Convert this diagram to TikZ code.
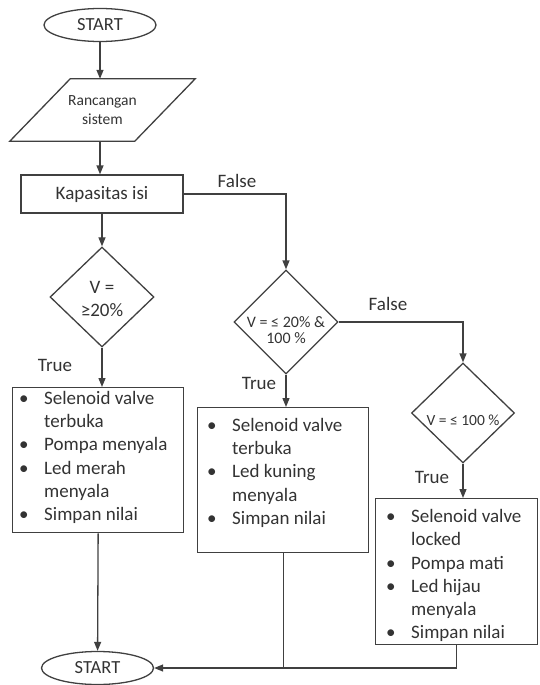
\documentclass[tikz,border=0pt]{standalone}
\usepackage{fontspec}
\setmainfont{Carlito}
\usetikzlibrary{shapes.geometric,arrows.meta,calc}
\definecolor{lncol}{HTML}{404040}
\definecolor{txcol}{HTML}{333333}
\newcommand{\bl}{\makebox[25pt][l]{\textbullet}}
\newcommand{\ind}{\hspace*{25pt}}
\begin{document}
\begin{tikzpicture}[x=1pt,y=-1pt,
  every node/.style={text=txcol, inner sep=0pt},
  lnst/.style={draw=lncol, line width=1.3pt},
  arr/.style={lnst, -{Triangle[length=9pt,width=7pt]}},
  term/.style={lnst, ellipse, minimum width=112pt, minimum height=33pt, font=\fontsize{18.5}{22}\selectfont},
  proc/.style={lnst, rectangle, minimum width=162pt, minimum height=38pt, font=\fontsize{19}{23}\selectfont},
  dec/.style={lnst, diamond},
  lbl/.style={font=\fontsize{19}{23}\selectfont},
  lst/.style={align=left, anchor=north west, font=\fontsize{19}{23.3}\selectfont},
  listbox/.style={lnst, rectangle, anchor=north west}
]
\useasboundingbox (0,0) rectangle (539,685);

% terminals and process
\node[term] (start1) at (100,25) {START};
\node[minimum width=185pt, minimum height=62pt, align=center,
      font=\fontsize{15.5}{19}\selectfont] (io) at (102.5,110) {Rancangan\\sistem};
\draw[lnst] (io.south west) -- ($(io.south west)+(125,0)$) -- (io.north east)
  -- ($(io.north east)+(-125,0)$) -- cycle;
\node[proc] (kap) at (102,194) {Kapasitas isi};

% decisions
\node[dec, minimum width=104pt, minimum height=100pt] (d1) at (102,297) {};
\node[align=center, font=\fontsize{19}{23}\selectfont] (d1t) at (102,299) {V =\\≥20\%};
\node[dec, minimum width=104pt, minimum height=104pt] (d2) at (286,322) {};
\node[align=center, font=\fontsize{16}{16.5}\selectfont] (d2t) at (286,330) {V = ≤ 20\% \&\\100 \%};
\node[dec, minimum width=103pt, minimum height=100pt] (d3) at (463,413) {};
\node[font=\fontsize{15.5}{18}\selectfont] (d3t) at (463,420) {V = ≤ 100 \%};

% list boxes
\node[listbox, minimum width=171pt, minimum height=145pt] (b1) at (12,387) {};
\node[lst] (t1) at ([xshift=7pt,yshift=-4pt]b1.north west)
  {\bl Selenoid valve\\\ind terbuka\\\bl Pompa menyala\\\bl Led merah\\\ind menyala\\\bl Simpan nilai};
\node[listbox, minimum width=171pt, minimum height=145pt] (b2) at (197,407) {};
\node[lst] (t2) at ([xshift=10pt,yshift=-11pt]b2.north west)
  {\bl Selenoid valve\\\ind terbuka\\\bl Led kuning\\\ind menyala\\\bl Simpan nilai};
\node[listbox, minimum width=162pt, minimum height=146pt] (b3) at (375,498) {};
\node[lst] (t3) at ([xshift=11pt,yshift=-11pt]b3.north west)
  {\bl Selenoid valve\\\ind locked\\\bl Pompa mati\\\bl Led hijau\\\ind menyala\\\bl Simpan nilai};

\node[term] (start2) at (97.5,668) {START};

% connectors
\draw[arr] (start1) -- (start1 |- io.north);
\draw[arr] (io.south -| start1) -- (start1 |- kap.north);
\draw[arr] (kap) -- (d1);
\draw[arr] (kap.east) -| (d2.north);
\draw[arr] (d1) -- (b1.north -| d1);
\draw[arr] (d2) -- (b2.north -| d2);
\draw[arr] (d2.east) -| (d3.north);
\draw[arr] (d3) -- (b3.north -| d3);
\draw[arr] (b1.south) -- (start2);
\coordinate (j2) at (b2.south |- start2.east);
\draw[lnst] (b2.south) -- (j2);
\draw[arr] (b3.south) |- (start2.east);

% labels
\node[lbl] (f1) at (237,181) {False};
\node[lbl] (f2) at (388,304) {False};
\node[lbl] (tr1) at (55,365) {True};
\node[lbl] (tr2) at (259,383) {True};
\node[lbl] (tr3) at (432,477) {True};
\end{tikzpicture}
\end{document}
